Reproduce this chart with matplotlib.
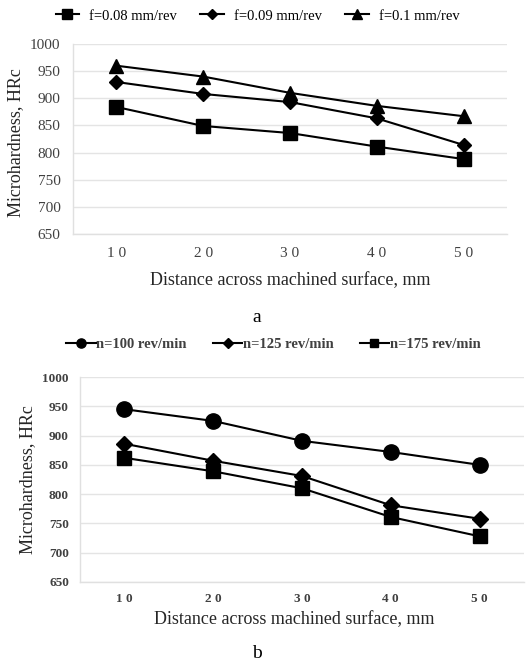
import matplotlib
matplotlib.use("Agg")
import matplotlib.pyplot as plt

distance = [10, 20, 30, 40, 50]
tick_labels = [" ".join(str(d)) for d in distance]

feed_labels = ["f=0.08 mm/rev", "f=0.09 mm/rev", "f=0.1 mm/rev"]
feed_008 = [884, 849, 836, 811, 788]
feed_009 = [930, 908, 893, 863, 814]
feed_010 = [960, 940, 910, 886, 867]

speed_labels = ["n=100 rev/min", "n=125 rev/min", "n=175 rev/min"]
speed_100 = [945, 925, 891, 872, 850]
speed_125 = [886, 857, 831, 781, 758]
speed_175 = [862, 839, 810, 761, 728]

W, H = 531, 665
SERIF = "Liberation Serif"
plt.rcParams["font.family"] = SERIF


def px_axes(fig, left, top, right, bottom):
    return fig.add_axes([left / W, 1 - bottom / H, (right - left) / W, (bottom - top) / H])


def style_axes(ax, bold_ticks, tick_size, pad):
    x = list(range(len(distance)))
    ax.set_xlim(-0.5, len(distance) - 0.5)
    ax.set_ylim(650, 1000)
    ax.set_yticks(range(650, 1001, 50))
    ax.set_xticks(x)
    ax.set_xticklabels(tick_labels)
    weight = "bold" if bold_ticks else "normal"
    for lab in ax.get_xticklabels() + ax.get_yticklabels():
        lab.set_fontsize(tick_size)
        lab.set_fontweight(weight)
        lab.set_color("#404040")
    ax.tick_params(length=0, pad=pad)
    ax.grid(axis="y", color="#e4e4e4", linewidth=1)
    ax.set_axisbelow(True)
    for side in ("top", "right"):
        ax.spines[side].set_visible(False)
    for side in ("left", "bottom"):
        ax.spines[side].set_color("#e0e0e0")
        ax.spines[side].set_linewidth(1)
    ax.set_ylabel("Microhardness, HRc", fontsize=13, color="#262626")
    ax.set_xlabel("Distance across machined surface, mm", fontsize=13, color="#262626")
    return x


fig = plt.figure(figsize=(W / 100, H / 100), dpi=100)

# chart a
ax1 = px_axes(fig, 73, 44, 507, 234)
x = style_axes(ax1, False, 11, 9)
l1, = ax1.plot(x, feed_008, color="black", lw=1.5, marker="s", ms=10)
l2, = ax1.plot(x, feed_009, color="black", lw=1.5, marker="D", ms=7.5)
l3, = ax1.plot(x, feed_010, color="black", lw=1.5, marker="^", ms=10)
ax1.yaxis.set_label_coords(-0.112, 0.48)
ax1.xaxis.set_label_coords(0.5, -0.2)
fig.legend([l1, l2, l3], feed_labels, loc="center", bbox_to_anchor=(0.485, 1 - 16 / H),
           ncol=3, frameon=False, fontsize=10.5, markerscale=0.7, handlelength=1.6,
           columnspacing=1.6, handletextpad=0.7)
fig.text(257 / W, 1 - 318 / H, "a", fontsize=14, ha="center", va="center")

# chart b
ax2 = px_axes(fig, 80, 377, 524, 582)
x = style_axes(ax2, True, 9.5, 8)
m1, = ax2.plot(x, speed_100, color="black", lw=1.5, marker="o", ms=11)
m2, = ax2.plot(x, speed_125, color="black", lw=1.5, marker="D", ms=8.5)
m3, = ax2.plot(x, speed_175, color="black", lw=1.5, marker="s", ms=10)
ax2.yaxis.set_label_coords(-0.098, 0.5)
ax2.xaxis.set_label_coords(0.482, -0.14)
leg = fig.legend([m1, m2, m3], speed_labels, loc="center", bbox_to_anchor=(0.515, 1 - 344 / H),
                 ncol=3, frameon=False, prop={"family": SERIF, "weight": "bold", "size": 10.5},
                 markerscale=0.6, handlelength=2.0, columnspacing=1.8, handletextpad=0.05)
for t in leg.get_texts():
    t.set_color("#404040")
fig.text(257 / W, 1 - 654 / H, "b", fontsize=14, ha="center", va="center")

fig.savefig("out.png", dpi=100)
